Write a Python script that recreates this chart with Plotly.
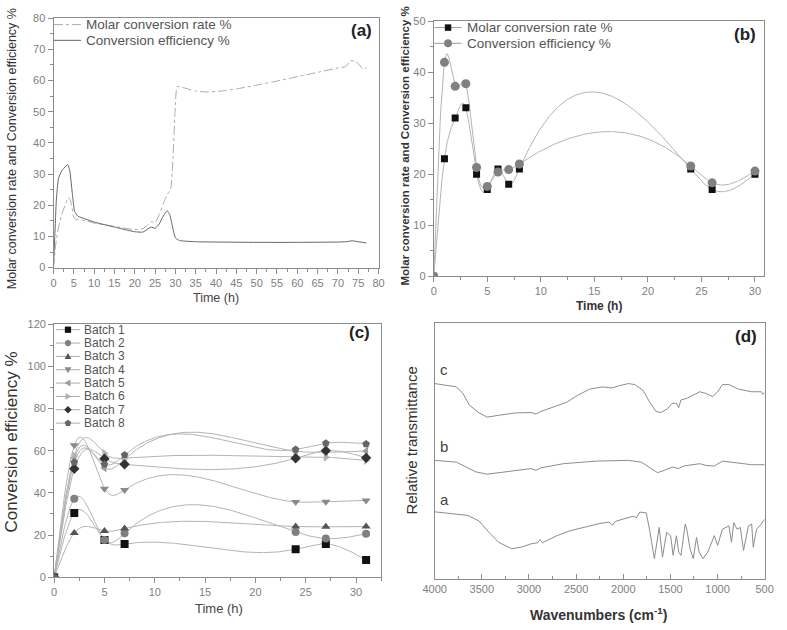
import numpy as np
import plotly.graph_objects as go

W, H = 787, 630

# ---------------- Panel (a) data ----------------
a_t_eff = [0, 0.3, 0.7, 1.2, 2, 3, 3.5, 4, 4.6, 5.2, 6, 8, 10, 15, 20, 22, 23, 24, 25, 26, 27, 28,
           28.6, 29.3, 30, 31, 35, 40, 50, 60, 70, 72, 73.5, 75, 77]
a_eff = [1, 10, 22, 28.5, 31, 32.5, 33, 31, 24, 18, 16.5, 15.5, 14.6, 13, 11.5, 11.4, 12.2, 13, 12.6, 14,
         16.5, 18.2, 17, 13, 9.5, 8.7, 8.3, 8.2, 8.1, 8.1, 8.2, 8.3, 8.6, 8.3, 7.9]
a_t_mol = [0, 0.5, 1, 2, 3, 3.7, 4.3, 5, 5.5, 8, 10, 15, 20, 22, 23, 24, 25, 26, 27, 28, 28.8, 29.4,
           29.9, 30.4, 31, 35, 38, 42, 45, 50, 55, 60, 65, 70, 72, 73, 74, 75, 76, 76.5, 77]
a_mol = [0, 7, 11.5, 17, 20.5, 22.5, 21, 16, 15.5, 15, 14.3, 13.2, 12.2, 12.5, 13.5, 14.7, 14.5, 17, 20.5,
         23.5, 25, 35, 50, 58, 58, 56.6, 56.3, 56.7, 57.3, 58.5, 59.8, 61.2, 62.6, 64, 64.5, 66.3, 66.2,
         65.4, 63.8, 63.5, 64.2]

# ---------------- Panel (b) data ----------------
b_t = [0, 1, 2, 3, 4, 5, 6, 7, 8, 24, 26, 30]
b_mol = [0, 23, 31, 33, 20, 17, 21, 18, 21, 21, 17, 20]
b_eff = [0, 41.9, 37.2, 37.7, 21.3, 17.6, 20.4, 20.9, 22.0, 21.6, 18.3, 20.6]

# ---------------- Panel (c) data ----------------
c_t = [0, 2, 5, 7, 24, 27, 31]
c_names = ["Batch 1", "Batch 2", "Batch 3", "Batch 4", "Batch 5", "Batch 6", "Batch 7", "Batch 8"]
batch1 = [0, 30.5, 17.7, 15.7, 13.3, 15.8, 8.1]
batch2 = [0, 37.2, 17.7, 20.8, 21.4, 18.3, 20.6]
batch3 = [0, 21.0, 21.9, 23.1, 24.0, 23.9, 24.0]
batch4 = [0, 62.6, 41.9, 41.4, 35.7, 35.8, 36.4]
batch5 = [0, 56.5, 51.8, 56.0, 59.7, 59.2, 59.8]
batch6 = [0, 57.5, 58.7, 56.5, 57.2, 56.9, 55.4]
batch7 = [0, 51.4, 56.2, 53.5, 56.4, 60.0, 56.6]
batch8 = [0, 54.5, 53.5, 58.0, 60.5, 63.5, 63.2]
c_values = [batch1, batch2, batch3, batch4, batch5, batch6, batch7, batch8]

# ---------------- Panel (d) data (FTIR) ----------------
d_wn_c = [4000, 3770, 3700, 3632, 3529, 3443, 3322, 3150, 2978, 2926, 2875, 2737, 2600, 2479, 2359, 2221,
          2118, 2049, 1946, 1877, 1791, 1722, 1653, 1602, 1533, 1481, 1436, 1412, 1388, 1326, 1257, 1188,
          1120, 1051, 999, 948, 879, 776, 638, 535, 517, 500]
d_c = [76.4, 75.1, 72.5, 68, 64.9, 63.3, 64, 64.9, 65.1, 64.5, 65.5, 67.4, 69.1, 71.9, 74.2, 75.1,
       74.7, 75.5, 76.4, 76, 73.8, 69.3, 65.5, 65.1, 66.5, 68.7, 68.7, 67, 70, 70.6, 71.9, 73.2,
       72.5, 71.3, 73.2, 76, 76, 74.2, 73.2, 73.2, 72.2, 72.8]
d_wn_b = [4000, 3770, 3666, 3563, 3443, 3322, 3150, 2978, 2926, 2875, 2634, 2290, 1946, 1808, 1705, 1636,
          1567, 1481, 1412, 1360, 1188, 1120, 1034, 948, 811, 638, 500]
d_b = [46.4, 45.7, 43.8, 41.9, 41, 41.6, 42.5, 43.2, 42.5, 43.5, 45.1, 46.1, 46.4, 45.7, 43.2, 41.6,
       42.5, 43.8, 43.2, 44.2, 45.1, 44.4, 44.2, 46.1, 45.5, 44.7, 44.7]
d_wn_a = [4000, 3838, 3649, 3529, 3425, 3322, 3184, 3081, 2978, 2909, 2882, 2858, 2703, 2565, 2427, 2255,
          2152, 2111, 2083, 1980, 1894, 1860, 1825, 1756, 1722, 1670, 1619, 1584, 1540, 1498, 1471, 1436,
          1412, 1388, 1343, 1326, 1292, 1257, 1223, 1195, 1154, 1103, 1034, 999, 948, 879, 852, 828,
          793, 759, 724, 672, 638, 621, 586, 552, 500]
d_a = [26.3, 25.7, 24.9, 22.7, 18.3, 14.4, 11.9, 12.5, 13.8, 14.2, 15.5, 14.2, 17, 18.9, 20.2, 21.7,
       22.3, 21.1, 22.6, 23.8, 24.6, 24, 26.2, 25.9, 19.5, 8, 20.2, 8.6, 18.3, 17, 9.3, 17,
       10.6, 9.3, 21.5, 19.5, 11.9, 8, 16.3, 10.6, 8, 10.6, 17, 13.2, 19.5, 20.8, 14.4, 22.1,
       19.5, 20.2, 11.2, 20.8, 21.5, 12.5, 19.5, 20.8, 23.4]
d_labels = ["c", "b", "a"]


def natural_spline(x, y, num=400):
    x = np.asarray(x, float)
    y = np.asarray(y, float)
    n = len(x)
    h = np.diff(x)
    A = np.zeros((n, n))
    r = np.zeros(n)
    A[0, 0] = A[-1, -1] = 1
    for i in range(1, n - 1):
        A[i, i - 1] = h[i - 1]
        A[i, i] = 2 * (h[i - 1] + h[i])
        A[i, i + 1] = h[i]
        r[i] = 6 * ((y[i + 1] - y[i]) / h[i] - (y[i] - y[i - 1]) / h[i - 1])
    M = np.linalg.solve(A, r)
    xs = np.linspace(x[0], x[-1], num)
    idx = np.clip(np.searchsorted(x, xs) - 1, 0, n - 2)
    x0, x1, hh = x[idx], x[idx + 1], h[idx]
    aa = (x1 - xs) / hh
    bb = (xs - x0) / hh
    ys = aa * y[idx] + bb * y[idx + 1] + ((aa ** 3 - aa) * M[idx] + (bb ** 3 - bb) * M[idx + 1]) * hh ** 2 / 6
    return xs, ys


def px(x):
    return x / W


def py(y):
    return 1 - y / H


fig = go.Figure()
LINE_GRAY = "#b4b4b4"

# Panel (a)
fig.add_trace(go.Scatter(x=a_t_mol, y=a_mol, mode="lines", line=dict(color="#aaaaaa", width=1, dash="dashdot",
                         shape="spline", smoothing=0.5), xaxis="x", yaxis="y", showlegend=False))
fig.add_trace(go.Scatter(x=a_t_eff, y=a_eff, mode="lines", line=dict(color="#666666", width=1,
                         shape="spline", smoothing=0.5), xaxis="x", yaxis="y", showlegend=False))

# Panel (b)
b_series = [(b_mol, "square", "#111111", 7), (b_eff, "circle", "#808080", 9)]
for vals, sym, col, size in b_series:
    xs, ys = natural_spline(b_t, vals)
    fig.add_trace(go.Scatter(x=xs, y=ys, mode="lines", line=dict(color=LINE_GRAY, width=1),
                             xaxis="x2", yaxis="y2", showlegend=False, hoverinfo="skip"))
for vals, sym, col, size in b_series:
    fig.add_trace(go.Scatter(x=b_t, y=vals, mode="markers", marker=dict(symbol=sym, color=col, size=size),
                             xaxis="x2", yaxis="y2", showlegend=False))

# Panel (c)
c_symbols = ["square", "circle", "triangle-up", "triangle-down", "triangle-left", "triangle-right", "diamond", "pentagon"]
c_colors = ["#111111", "#808080", "#555555", "#8a8a8a", "#9c9c9c", "#b0b0b0", "#333333", "#666666"]
for vals in c_values:
    xs, ys = natural_spline(c_t, vals)
    fig.add_trace(go.Scatter(x=xs, y=ys, mode="lines", line=dict(color=LINE_GRAY, width=1),
                             xaxis="x3", yaxis="y3", showlegend=False, hoverinfo="skip"))
for name, vals, sym, col in zip(c_names, c_values, c_symbols, c_colors):
    fig.add_trace(go.Scatter(x=c_t, y=vals, mode="markers", name=name,
                             marker=dict(symbol=sym, color=col, size=8),
                             xaxis="x3", yaxis="y3", showlegend=False))

# Panel (d)
for wn, vals in [(d_wn_c, d_c), (d_wn_b, d_b), (d_wn_a, d_a)]:
    fig.add_trace(go.Scatter(x=wn, y=vals, mode="lines", line=dict(color="#8c8c8c", width=1),
                             xaxis="x4", yaxis="y4", showlegend=False))

AX = "#8c8c8c"
TICKF = dict(family="Liberation Sans, Arial", size=11, color="#808080")


def axis(domain, rng, anchor, dtick=None, minor=None, ticks="outside", showticklabels=True, ticklen=5):
    d = dict(domain=domain, range=rng, anchor=anchor, showgrid=False, zeroline=False,
             showline=True, linecolor=AX, linewidth=1, mirror=True, ticks=ticks if dtick else "",
             ticklen=ticklen, tickcolor=AX, tickfont=TICKF, showticklabels=showticklabels)
    if dtick:
        d["dtick"] = dtick
        d["tick0"] = 0
    if minor:
        d["minor"] = dict(dtick=minor, ticks=ticks, ticklen=3, tickcolor=AX)
    return d


fig.update_layout(
    width=W, height=H, margin=dict(l=0, r=0, t=0, b=0),
    paper_bgcolor="white", plot_bgcolor="white", showlegend=False,
    xaxis=axis([42.7 / W, 377 / W], [0, 80.1], "y", dtick=5, minor=2.5),
    yaxis=axis([py(266.7), py(12.3)], [0, 80], "x", dtick=10, minor=5),
    xaxis2=axis([433.3 / W, 772.7 / W], [0, 30.85], "y2", dtick=5, minor=2.5),
    yaxis2=axis([py(275.5), py(15.3)], [0, 50], "x2", dtick=10, minor=5),
    xaxis3=axis([43.3 / W, 379.3 / W], [0, 32.5], "y3", dtick=5, minor=2.5),
    yaxis3=axis([py(582.3), py(324.3)], [0, 120], "x3", dtick=20, minor=10),
    xaxis4=axis([434.3 / W, 773.3 / W], [4000, 500], "y4", dtick=500, minor=250, ticks="inside"),
    yaxis4=axis([py(584.3), py(323.3)], [0, 100], "x4", showticklabels=False),
)
fig.layout.xaxis4.tick0 = 500

ann = []
shapes = []
TXT = "Liberation Sans, Arial"


def text(x, y, s, size, color="#333333", bold=False, angle=0, xanchor="center"):
    if bold:
        s = "<b>" + s + "</b>"
    ann.append(dict(x=px(x), y=py(y), xref="paper", yref="paper", text=s, showarrow=False,
                    textangle=angle, xanchor=xanchor, yanchor="middle",
                    font=dict(family=TXT, size=size, color=color)))


# axis titles
text(0, 146, "Molar conversion rate and Conversion efficiency %", 12.5, "#333333", angle=-90)
text(210, 298, "Time (h)", 12.5, "#444444")
text(404, 143, "Molar conversion rate and Conversion efficiency %", 11.5, "#333333", bold=True, angle=-90)
text(603, 306, "Time (h)", 12, "#333333", bold=True)
text(0, 445, "Conversion efficiency %", 17, "#333333", angle=-90)
text(213, 614, "Time (h)", 13, "#444444")
text(411, 443, "Relative transmittance", 15, "#333333", angle=-90)
text(603, 620, "Wavenumbers (cm<sup>-1</sup>)", 14, "#333333", bold=True)

# panel tags
text(359, 25, "(a)", 17, "#222222", bold=True)
text(753, 29, "(b)", 17, "#222222", bold=True)
text(357, 333, "(c)", 17, "#222222", bold=True)
text(754, 337, "(d)", 17, "#222222", bold=True)

# spectra labels
for lab, yy in zip(d_labels, [371, 449, 503]):
    text(444, yy, lab, 15, "#444444")


def legend_line(x0, x1, y, color, dash="solid"):
    shapes.append(dict(type="line", xref="paper", yref="paper", x0=px(x0), x1=px(x1), y0=py(y), y1=py(y),
                       line=dict(color=color, width=1, dash=dash)))


def legend_symbol(kind, cx, cy, r, color):
    if kind == "circle":
        shapes.append(dict(type="circle", xref="paper", yref="paper", x0=px(cx - r), x1=px(cx + r),
                           y0=py(cy + r), y1=py(cy - r), fillcolor=color, line=dict(width=0)))
        return
    if kind == "square":
        pts = [(-r, -r), (r, -r), (r, r), (-r, r)]
    elif kind == "triangle-up":
        pts = [(0, -r * 1.1), (r * 1.1, r * 0.8), (-r * 1.1, r * 0.8)]
    elif kind == "triangle-down":
        pts = [(0, r * 1.1), (r * 1.1, -r * 0.8), (-r * 1.1, -r * 0.8)]
    elif kind == "triangle-left":
        pts = [(-r * 1.1, 0), (r * 0.8, -r * 1.1), (r * 0.8, r * 1.1)]
    elif kind == "triangle-right":
        pts = [(r * 1.1, 0), (-r * 0.8, -r * 1.1), (-r * 0.8, r * 1.1)]
    elif kind == "diamond":
        pts = [(0, -r * 1.2), (r * 1.2, 0), (0, r * 1.2), (-r * 1.2, 0)]
    else:  # pentagon
        pts = [(r * 1.1 * np.cos(np.radians(-90 + 72 * k)), r * 1.1 * np.sin(np.radians(-90 + 72 * k))) for k in range(5)]
    path = "M " + " L ".join(f"{px(cx + dx):.5f},{py(cy + dy):.5f}" for dx, dy in pts) + " Z"
    shapes.append(dict(type="path", xref="paper", yref="paper", path=path, fillcolor=color, line=dict(width=0)))


# legend (a)
legend_line(43, 71, 19, "#aaaaaa", "dashdot")
text(74, 19, "Molar conversion rate %", 13.5, "#555555", xanchor="left")
legend_line(43, 71, 35, "#666666")
text(74, 35, "Conversion efficiency %", 13.5, "#555555", xanchor="left")

# legend (b)
b_leg = [("Molar conversion rate %", "square", "#111111", 3.3), ("Conversion efficiency %", "circle", "#808080", 4)]
for i, (lab, kind, col, r) in enumerate(b_leg):
    yy = 22 + 16 * i
    legend_line(434, 462, yy, "#999999")
    legend_symbol(kind, 448, yy, r, col)
    text(465, yy, lab, 13.5, "#555555", xanchor="left")

# legend (c)
for i, (lab, kind, col) in enumerate(zip(c_names, c_symbols, c_colors)):
    yy = 330 + 13.6 * i
    legend_line(45, 70, yy, "#aaaaaa")
    legend_symbol(kind, 57.5, yy, 3.2, col)
    text(72, yy, lab, 12, "#555555", xanchor="left")

fig.update_layout(annotations=ann, shapes=shapes)
fig.write_html("out.html", config={"displayModeBar": False},
               post_script="document.body.style.margin='0px';")
